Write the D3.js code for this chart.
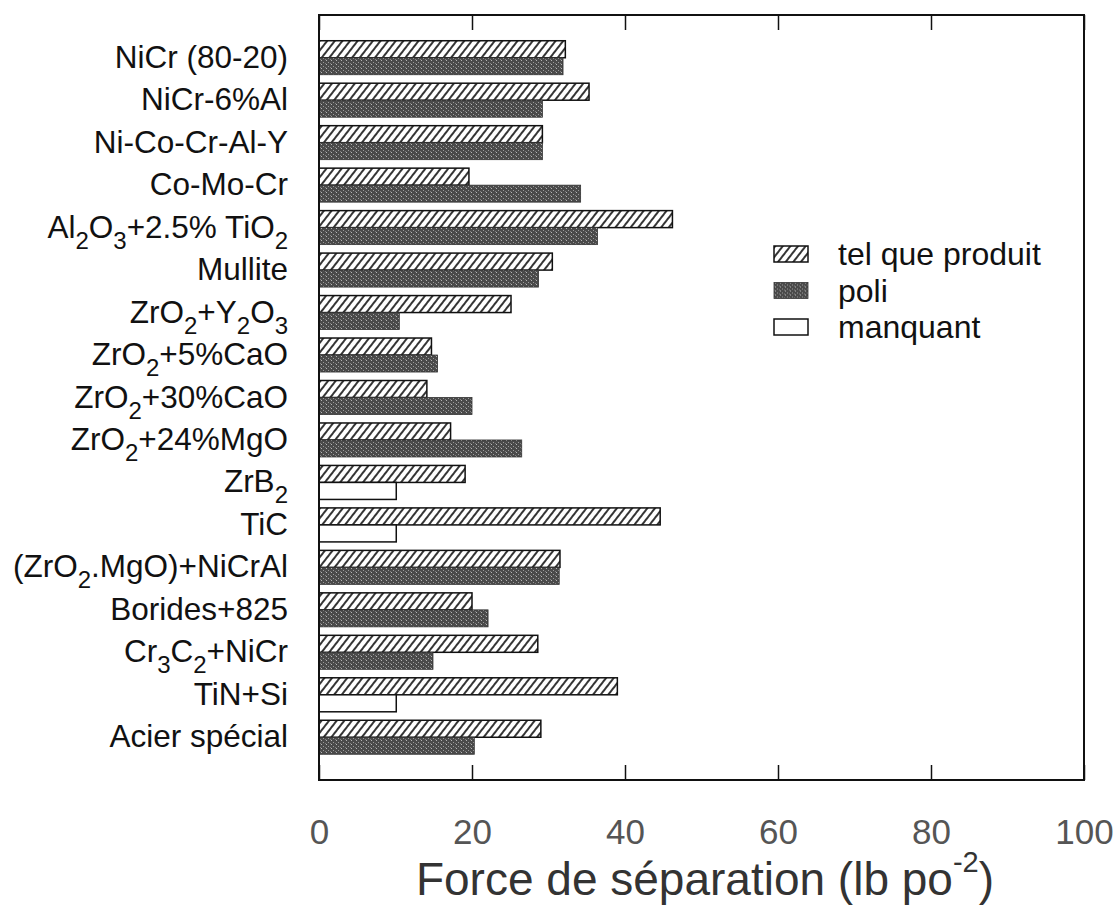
<!DOCTYPE html>
<html>
<head>
<meta charset="utf-8">
<script src="https://cdn.jsdelivr.net/npm/d3@7"></script>
<style>
  body { margin: 0; background: #fff; }
  text { font-family: "Liberation Sans", Arial, sans-serif; }
</style>
</head>
<body>
<script>
// data
// labels: plain text parts and subscript parts as [text, isSub]
const materials = [
  [["NiCr (80-20)", 0]],
  [["NiCr-6%Al", 0]],
  [["Ni-Co-Cr-Al-Y", 0]],
  [["Co-Mo-Cr", 0]],
  [["Al", 0], ["2", 1], ["O", 0], ["3", 1], ["+2.5% TiO", 0], ["2", 1]],
  [["Mullite", 0]],
  [["ZrO", 0], ["2", 1], ["+Y", 0], ["2", 1], ["O", 0], ["3", 1]],
  [["ZrO", 0], ["2", 1], ["+5%CaO", 0]],
  [["ZrO", 0], ["2", 1], ["+30%CaO", 0]],
  [["ZrO", 0], ["2", 1], ["+24%MgO", 0]],
  [["ZrB", 0], ["2", 1]],
  [["TiC", 0]],
  [["(ZrO", 0], ["2", 1], [".MgO)+NiCrAl", 0]],
  [["Borides+825", 0]],
  [["Cr", 0], ["3", 1], ["C", 0], ["2", 1], ["+NiCr", 0]],
  [["TiN+Si", 0]],
  [["Acier spécial", 0]]
];
const telQueProduit = [32.2, 35.3, 29.2, 19.6, 46.2, 30.5, 25.1, 14.7, 14.1, 17.2, 19.1, 44.6, 31.5, 20.0, 28.6, 39.0, 29.0];
// null = no "poli" value, drawn as "manquant"
const poli = [31.9, 29.2, 29.2, 34.2, 36.4, 28.7, 10.5, 15.5, 20.0, 26.5, null, null, 31.4, 22.1, 14.9, null, 20.3];
const manquantValue = 10.1;
const legendLabels = ["tel que produit", "poli", "manquant"];
const xTicks = [0, 20, 40, 60, 80, 100];

const W = 1117, H = 907;
const plotLeft = 319, plotRight = 1084, plotTop = 15, plotBottom = 780;
const barH = 17;

const svg = d3.select("body").append("svg")
  .attr("width", W).attr("height", H);

const defs = svg.append("defs");
const hatch = defs.append("pattern")
  .attr("id", "hatch")
  .attr("patternUnits", "userSpaceOnUse")
  .attr("width", 6).attr("height", 6)
  .attr("patternTransform", "rotate(38)");
hatch.append("rect").attr("width", 6).attr("height", 6).attr("fill", "#fff");
hatch.append("line")
  .attr("x1", 1).attr("y1", 0).attr("x2", 1).attr("y2", 6)
  .attr("stroke", "#111").attr("stroke-width", 1.7);

const speck = defs.append("pattern")
  .attr("id", "speck")
  .attr("patternUnits", "userSpaceOnUse")
  .attr("width", 5).attr("height", 4);
speck.append("rect").attr("width", 5).attr("height", 4).attr("fill", "#4a4a4a");
speck.append("rect").attr("x", 1).attr("y", 0).attr("width", 1).attr("height", 1).attr("fill", "#b5b5b5");
speck.append("rect").attr("x", 3).attr("y", 2).attr("width", 1).attr("height", 1).attr("fill", "#9a9a9a");
speck.append("rect").attr("x", 0).attr("y", 3).attr("width", 1).attr("height", 1).attr("fill", "#808080");

const x = d3.scaleLinear().domain([0, 100]).range([plotLeft, plotRight]);
const y = d3.scaleBand().domain(d3.range(materials.length)).range([36.5, 758.5]);

// bars
const rows = svg.append("g").selectAll("g")
  .data(materials.map((m, i) => i))
  .join("g");

rows.append("rect")
  .attr("x", x(0))
  .attr("y", i => y(i) + y.bandwidth() / 2 - barH)
  .attr("width", i => x(telQueProduit[i]) - x(0))
  .attr("height", barH)
  .attr("fill", "url(#hatch)")
  .attr("stroke", "#111").attr("stroke-width", 1.5);

rows.append("rect")
  .attr("x", x(0))
  .attr("y", i => y(i) + y.bandwidth() / 2)
  .attr("width", i => x(poli[i] == null ? manquantValue : poli[i]) - x(0))
  .attr("height", barH)
  .attr("fill", i => poli[i] == null ? "#fff" : "url(#speck)")
  .attr("stroke", i => poli[i] == null ? "#111" : "#333")
  .attr("stroke-width", i => poli[i] == null ? 1.5 : 0.8);

// category labels
const labels = svg.append("g").selectAll("text")
  .data(materials)
  .join("text")
  .attr("x", 288)
  .attr("y", (d, i) => y(i) + y.bandwidth() / 2 + 10)
  .attr("text-anchor", "end")
  .attr("font-size", 31.5)
  .attr("fill", "#111");

labels.each(function (parts) {
  const t = d3.select(this);
  let wasSub = false;
  parts.forEach(function (p) {
    const span = t.append("tspan").text(p[0]);
    if (p[1]) {
      span.attr("font-size", 24).attr("dy", wasSub ? 0 : 11);
    } else if (wasSub) {
      span.attr("dy", -11);
    }
    wasSub = !!p[1];
  });
});

// frame
svg.append("rect")
  .attr("x", plotLeft).attr("y", plotTop)
  .attr("width", plotRight - plotLeft).attr("height", plotBottom - plotTop)
  .attr("fill", "none").attr("stroke", "#111").attr("stroke-width", 2);

// axes
const xAxis = d3.axisBottom(x).tickValues(xTicks).tickSize(-15).tickPadding(39);
const gx = svg.append("g")
  .attr("transform", "translate(0," + plotBottom + ")")
  .call(xAxis);
gx.select(".domain").remove();
gx.selectAll(".tick line").attr("stroke", "#111").attr("stroke-width", 1.5);
gx.selectAll(".tick text")
  .attr("font-size", 35)
  .attr("fill", "#555")
  .attr("font-family", "Liberation Sans, Arial, sans-serif");

const xAxisTop = d3.axisTop(x).tickValues(xTicks).tickSize(-15).tickFormat("");
const gxt = svg.append("g")
  .attr("transform", "translate(0," + plotTop + ")")
  .call(xAxisTop);
gxt.select(".domain").remove();
gxt.selectAll(".tick line").attr("stroke", "#111").attr("stroke-width", 1.5);

// axis title
const title = svg.append("text")
  .attr("x", 705).attr("y", 895)
  .attr("text-anchor", "middle")
  .attr("font-size", 46)
  .attr("fill", "#333");
title.append("tspan").text("Force de séparation (lb po");
title.append("tspan").text("-2").attr("font-size", 29).attr("dy", -23);
title.append("tspan").text(")").attr("dy", 23);

// legend
const legend = svg.append("g").selectAll("g")
  .data(legendLabels)
  .join("g")
  .attr("transform", (d, i) => "translate(774," + (246 + i * 36.5) + ")");

legend.append("rect")
  .attr("width", 34).attr("height", 16)
  .attr("fill", (d, i) => ["url(#hatch)", "url(#speck)", "#fff"][i])
  .attr("stroke", (d, i) => i == 1 ? "#333" : "#111")
  .attr("stroke-width", (d, i) => i == 1 ? 0.8 : 1.5);

legend.append("text")
  .attr("x", 64).attr("y", 19)
  .attr("font-size", 32)
  .attr("fill", "#111")
  .text(d => d);
</script>
</body>
</html>
